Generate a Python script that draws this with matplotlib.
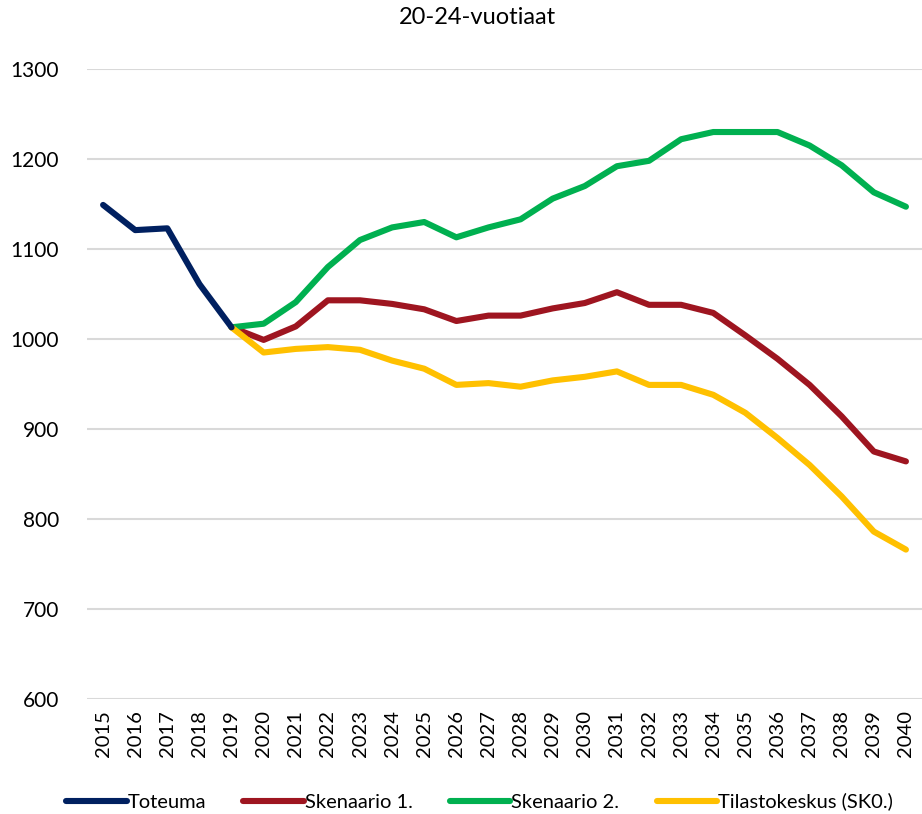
import matplotlib.pyplot as plt

plt.rcParams['font.family'] = ['Lato', 'DejaVu Sans']

years = list(range(2015, 2041))

# toteutunut 2015-2019
toteuma_years = list(range(2015, 2020))
toteuma = [1149, 1121, 1123, 1061, 1013]

# skenaariot 2019-2040
ennuste_years = list(range(2019, 2041))
skenaario1 = [1013, 999, 1014, 1043, 1043, 1039, 1033, 1020, 1026, 1026, 1034,
              1040, 1052, 1038, 1038, 1029, 1004, 978, 949, 914, 875, 864]
skenaario2 = [1013, 1017, 1041, 1080, 1110, 1124, 1130, 1113, 1124, 1133, 1156,
              1170, 1192, 1198, 1222, 1230, 1230, 1230, 1215, 1193, 1163, 1147]
tilastokeskus = [1013, 985, 989, 991, 988, 976, 967, 949, 951, 947, 954,
                 958, 964, 949, 949, 938, 918, 890, 860, 825, 786, 766]

fig = plt.figure(figsize=(9.22, 8.14), dpi=100)
ax = fig.add_axes([0.0944, 0.1413, 0.9056, 0.7739])

lw = 4.4
ax.plot(toteuma_years, toteuma, color='#002060', lw=lw, solid_capstyle='round',
        label='Toteuma', zorder=5)
ax.plot(ennuste_years, skenaario1, color='#9E1520', lw=lw, solid_capstyle='round',
        label='Skenaario 1.', zorder=3)
ax.plot(ennuste_years, skenaario2, color='#00B050', lw=lw, solid_capstyle='round',
        label='Skenaario 2.', zorder=3)
ax.plot(ennuste_years, tilastokeskus, color='#FFC000', lw=lw, solid_capstyle='round',
        label='Tilastokeskus (SK0.)', zorder=4)

ax.set_xlim(2014.5, 2040.5)
ax.set_ylim(600, 1300)
ax.set_yticks(range(600, 1301, 100))
ax.set_xticks(years)
ax.set_xticklabels([str(y) for y in years], rotation=90, fontsize=14.5)
ax.tick_params(axis='y', labelsize=15, length=0, pad=20)
ax.tick_params(axis='x', length=0, pad=8)
ax.grid(axis='y', color='#d9d9d9', lw=1.5)
ax.set_axisbelow(True)
for s in ax.spines.values():
    s.set_visible(False)

fig.text(477 / 922, 1 - 18 / 814, '20-24-vuotiaat', fontsize=17,
         ha='center', va='center')

ax.legend(loc='upper center', bbox_to_anchor=(0.47, -0.12), ncol=4,
          frameon=False, fontsize=14.5, handlelength=3.0, handletextpad=0.05,
          columnspacing=1.85)

fig.savefig('out.png', dpi=100)
